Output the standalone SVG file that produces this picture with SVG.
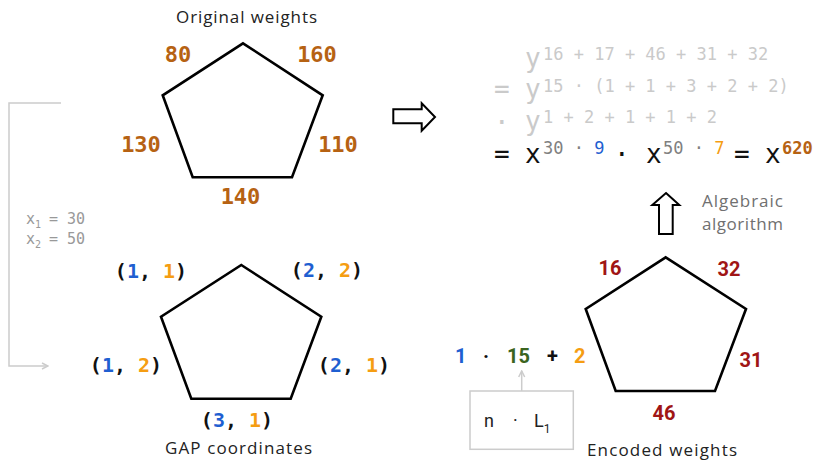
<svg xmlns="http://www.w3.org/2000/svg" width="813" height="460" viewBox="0 0 813 460">
<defs>
<style>
.pent{fill:#fff;stroke:#000;stroke-width:2.6;stroke-linejoin:miter}
.ow{font-family:"DejaVu Sans Mono",monospace;font-weight:bold;font-size:22px;fill:#b66213;text-anchor:middle}
.tp{font-family:"DejaVu Sans Mono",monospace;font-weight:bold;font-size:20px;fill:#111;text-anchor:middle}
.ew{font-family:Roboto,"Liberation Sans",sans-serif;font-weight:bold;font-size:20px;fill:#a01515;text-anchor:middle}
.cap{font-family:"Open Sans","Liberation Sans",sans-serif;font-size:17px;fill:#222}
.alg{font-family:"Open Sans","Liberation Sans",sans-serif;font-size:17px;fill:#707070}
.big{font-family:"DejaVu Sans Mono",monospace;font-size:26px}
.sup{font-family:"DejaVu Sans Mono",monospace;font-size:17px}
.lg{fill:#cacaca}
.blk{fill:#111}
.gr{fill:#808080}
.b{fill:#1f5fd1}
.o{fill:#f59d12}
.g{fill:#3b6420}
.fat{stroke:#000;stroke-width:2;fill:#fff;stroke-linejoin:miter}
.thin{stroke:#cccccc;stroke-width:1.5;fill:none}
.xs{font-family:"DejaVu Sans Mono",monospace;font-size:15px;fill:#999}
.nl{font-family:Roboto,"Liberation Sans",sans-serif;font-size:18px;fill:#222}
.ec{font-family:Roboto,"Liberation Sans",sans-serif;font-weight:bold;font-size:20px}
</style>
<marker id="ah" markerWidth="8" markerHeight="8" refX="7" refY="4" orient="auto" markerUnits="userSpaceOnUse">
<path d="M1,1 L7,4 L1,7" fill="none" stroke="#cccccc" stroke-width="1.5"/>
</marker>
</defs>

<g id="connectors">
<path class="fat" d="M393.3,109.3 H421.7 V103.3 L435,117 L421.7,130.7 V123.3 H393.3 Z"/>
<path class="fat" d="M666,193 L679.3,205 H672.7 V234 H659 V205 H652.3 Z"/>
<path class="thin" d="M61,103 H9 V366 H48" marker-end="url(#ah)"/>
<path class="thin" d="M521.7,391 V371" marker-end="url(#ah)"/>
</g>

<g id="original-weights">
<text class="cap" x="176" y="23" textLength="141" lengthAdjust="spacing">Original weights</text>
<polygon class="pent" points="243,43.3 322.7,95.3 292,177.3 192.7,177.3 162.7,95.3"/>
<text class="ow" x="178" y="62">80</text>
<text class="ow" x="317" y="62">160</text>
<text class="ow" x="141" y="152">130</text>
<text class="ow" x="338" y="152">110</text>
<text class="ow" x="240.5" y="204">140</text>
</g>

<g id="gap-coordinates">
<polygon class="pent" points="241.3,265 321.3,316.7 290.7,398.7 191.3,398.7 161,316.7"/>
<text class="tp" x="151" y="278">(<tspan class="b">1</tspan>, <tspan class="o">1</tspan>)</text>
<text class="tp" x="327" y="277">(<tspan class="b">2</tspan>, <tspan class="o">2</tspan>)</text>
<text class="tp" x="126" y="372">(<tspan class="b">1</tspan>, <tspan class="o">2</tspan>)</text>
<text class="tp" x="354" y="372">(<tspan class="b">2</tspan>, <tspan class="o">1</tspan>)</text>
<text class="tp" x="237" y="427">(<tspan class="b">3</tspan>, <tspan class="o">1</tspan>)</text>
<text class="cap" x="165" y="454" textLength="147" lengthAdjust="spacing">GAP coordinates</text>
</g>

<g id="x-values">
<text class="xs" x="26" y="224">x<tspan font-size="10" dy="4">1</tspan><tspan dy="-4" x="49">= 30</tspan></text>
<text class="xs" x="26" y="244">x<tspan font-size="10" dy="4">2</tspan><tspan dy="-4" x="49">= 50</tspan></text>
</g>

<g id="equation">
<text class="big lg" x="525" y="67">y</text>
<text class="sup lg" x="543" y="60">16 + 17 + 46 + 31 + 32</text>
<text class="big lg" x="494" y="98">=</text>
<text class="big lg" x="525" y="98">y</text>
<text class="sup lg" x="543" y="92">15 · (1 + 1 + 3 + 2 + 2)</text>
<text class="big lg" x="494" y="131">·</text>
<text class="big lg" x="525" y="130">y</text>
<text class="sup lg" x="543" y="123">1 + 2 + 1 + 1 + 2</text>
<text class="big blk" x="494" y="163">=</text>
<text class="big blk" x="525" y="163">x</text>
<text class="sup gr" x="543" y="154">30 · <tspan class="b">9</tspan></text>
<text class="big blk" x="614" y="163">·</text>
<text class="big blk" x="646" y="163">x</text>
<text class="sup gr" x="663" y="154">50 · <tspan class="o">7</tspan></text>
<text class="big blk" x="734" y="163">=</text>
<text class="big blk" x="765" y="163">x</text>
<text class="sup" x="782" y="154" font-weight="bold" fill="#b66213">620</text>
</g>

<g id="algebraic-label">
<text class="alg" x="702" y="207" textLength="81" lengthAdjust="spacing">Algebraic</text>
<text class="alg" x="702" y="230" textLength="81" lengthAdjust="spacing">algorithm</text>
</g>

<g id="encoded-weights">
<polygon class="pent" points="665.7,257.3 746,309 715,391 615.7,391 585.7,309"/>
<text class="ew" x="610" y="275">16</text>
<text class="ew" x="729" y="276">32</text>
<text class="ew" x="751" y="367">31</text>
<text class="ew" x="664" y="420">46</text>
<text class="cap" x="587" y="456" textLength="150" lengthAdjust="spacing">Encoded weights</text>
</g>

<g id="encoding-formula">
<text class="ec" x="455" y="363"><tspan class="b">1</tspan></text>
<text class="ec blk" x="483" y="363" font-weight="normal">·</text>
<text class="ec" x="507" y="363"><tspan class="g">15</tspan></text>
<text class="ec blk" x="547" y="363">+</text>
<text class="ec" x="574" y="363"><tspan class="o">2</tspan></text>
</g>

<g id="nl-box">
<rect x="470" y="391" width="103.3" height="58.3" fill="#fff" stroke="#cccccc" stroke-width="1.5"/>
<text class="nl" x="484" y="427">n</text>
<text class="nl" x="513" y="427">·</text>
<text class="nl" x="534" y="427">L<tspan font-size="12" dy="6">1</tspan></text>
</g>
</svg>
